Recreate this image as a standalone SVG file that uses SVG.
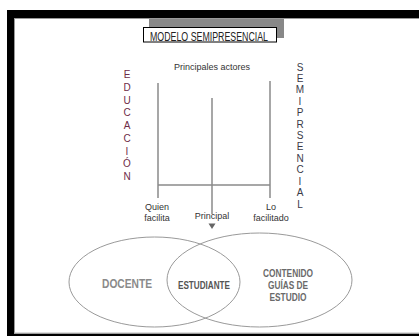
<svg xmlns="http://www.w3.org/2000/svg" width="419" height="336" viewBox="0 0 419 336">
<style>
.t{font-family:"Liberation Sans",Arial,sans-serif}
.lbl{font-size:9px;fill:#333;text-anchor:middle}
.vr{font-size:10px;text-anchor:middle}
.edu{fill:#6e2c47}
.sem{fill:#3a3a48}
.ln{stroke:#8a8a8a;stroke-width:1.5;fill:none}
.ell{fill:none;stroke:#9a9a9a;stroke-width:1}
.bold{font-weight:bold;text-anchor:middle}
</style>
<rect width="419" height="336" fill="#fff"/>
<g id="frame">
<rect x="7" y="10" width="412" height="8" fill="#000"/>
<rect x="7" y="10" width="7" height="326" fill="#000"/>
<rect x="7" y="333.5" width="412" height="2.5" fill="#000"/>
<line x1="14.5" y1="18" x2="14.5" y2="333.5" stroke="#999" stroke-width="1"/>
<line x1="14" y1="18.5" x2="419" y2="18.5" stroke="#999" stroke-width="1"/>
<line x1="14" y1="333" x2="419" y2="333" stroke="#bbb" stroke-width="1"/>
</g>
<g id="title">
<rect x="149" y="19" width="135" height="19" fill="#888"/>
<rect x="143.5" y="27.5" width="133" height="14.5" fill="#fff" stroke="#000" stroke-width="1"/>
<text class="t" x="209" y="40.5" font-size="12" text-anchor="middle" textLength="118" lengthAdjust="spacingAndGlyphs" fill="#222">MODELO SEMIPRESENCIAL</text>
</g>
<g id="principales-actores">
<text class="t lbl" x="212" y="69.5" font-size="8.5">Principales actores</text>
</g>
<g id="educacion">
<text class="t vr edu" x="127" y="78">E</text>
<text class="t vr edu" x="127" y="90.7">D</text>
<text class="t vr edu" x="127" y="103.5">U</text>
<text class="t vr edu" x="127" y="116.2">C</text>
<text class="t vr edu" x="127" y="129">A</text>
<text class="t vr edu" x="127" y="141.7">C</text>
<text class="t vr edu" x="127" y="154.5">I</text>
<text class="t vr edu" x="127" y="167.2">Ó</text>
<text class="t vr edu" x="127" y="180">N</text>
</g>
<g id="semipresencial">
<text class="t vr sem" x="300" y="70.5">S</text>
<text class="t vr sem" x="300" y="81.9">E</text>
<text class="t vr sem" x="300" y="93.3">M</text>
<text class="t vr sem" x="300" y="104.8">I</text>
<text class="t vr sem" x="300" y="116.2">P</text>
<text class="t vr sem" x="300" y="127.6">R</text>
<text class="t vr sem" x="300" y="139">S</text>
<text class="t vr sem" x="300" y="150.4">E</text>
<text class="t vr sem" x="300" y="161.8">N</text>
<text class="t vr sem" x="300" y="173.3">C</text>
<text class="t vr sem" x="300" y="184.7">I</text>
<text class="t vr sem" x="300" y="196.1">A</text>
<text class="t vr sem" x="300" y="207.5">L</text>
</g>
<g id="connectors">
<line class="ln" x1="158" y1="83" x2="158" y2="198"/>
<line class="ln" x1="212" y1="98" x2="212" y2="214"/>
<line class="ln" x1="270" y1="81" x2="270" y2="198"/>
<line class="ln" x1="158" y1="185" x2="270" y2="185"/>
<path d="M208.5 223.5 L215.5 223.5 L212 229 Z" fill="#666"/>
</g>
<g id="quien-facilita">
<text class="t lbl" x="157" y="210">Quien</text>
<text class="t lbl" x="157" y="221">facilita</text>
</g>
<g id="principal">
<text class="t lbl" x="212" y="219" font-size="8.5">Principal</text>
</g>
<g id="lo-facilitado">
<text class="t lbl" x="271" y="210">Lo</text>
<text class="t lbl" x="271" y="221">facilitado</text>
</g>
<g id="docente">
<ellipse class="ell" cx="154.5" cy="282" rx="85.5" ry="45"/>
<text class="t bold" x="127" y="287.5" font-size="12" textLength="50" lengthAdjust="spacingAndGlyphs" fill="#8a8a8a">DOCENTE</text>
</g>
<g id="contenido">
<ellipse class="ell" cx="259.5" cy="280" rx="92.5" ry="47"/>
<text class="t bold" x="288" y="276.5" font-size="10" textLength="50" lengthAdjust="spacingAndGlyphs" fill="#6a6a6a">CONTENIDO</text>
<text class="t bold" x="288" y="288.5" font-size="10" textLength="40" lengthAdjust="spacingAndGlyphs" fill="#6a6a6a">GUÍAS DE</text>
<text class="t bold" x="288" y="300.5" font-size="10" textLength="37" lengthAdjust="spacingAndGlyphs" fill="#6a6a6a">ESTUDIO</text>
</g>
<g id="estudiante">
<text class="t bold" x="204" y="289" font-size="10.5" textLength="52" lengthAdjust="spacingAndGlyphs" fill="#555">ESTUDIANTE</text>
</g>
</svg>
